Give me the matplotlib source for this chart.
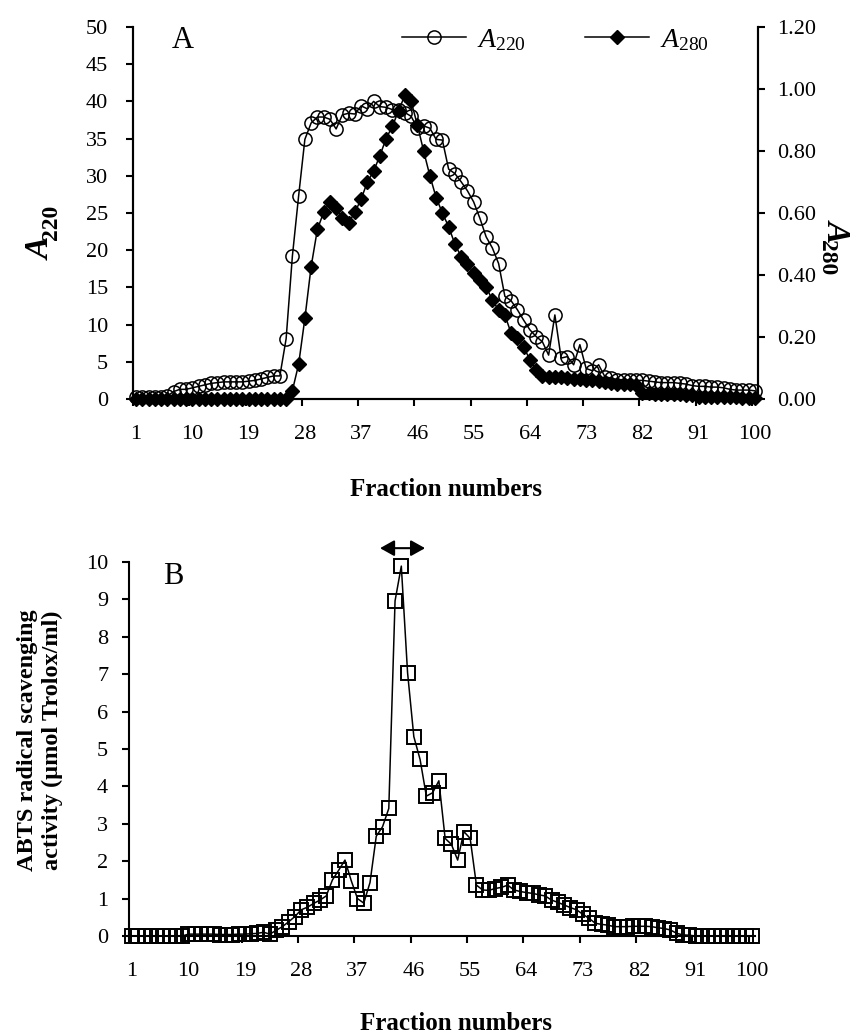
import matplotlib
matplotlib.use("Agg")
import matplotlib.pyplot as plt
import numpy as np

plt.rcParams["font.family"] = "Liberation Serif"
plt.rcParams["mathtext.fontset"] = "custom"
plt.rcParams["mathtext.rm"] = "Liberation Serif"
plt.rcParams["mathtext.it"] = "Liberation Serif:italic"
plt.rcParams["mathtext.bf"] = "Liberation Serif:bold"

# --- data: fractions 1..100 ---
fractions = np.arange(1, 101)

a220 = [0.3, 0.3, 0.3, 0.3, 0.3, 0.4, 1.0, 1.3, 1.3, 1.5,
        1.7, 1.9, 2.1, 2.2, 2.3, 2.3, 2.3, 2.3, 2.4, 2.5,
        2.7, 2.9, 3.1, 3.1, 8.1, 19.2, 27.3, 34.9, 37.1, 37.9,
        37.9, 37.6, 36.3, 38.2, 38.4, 38.3, 39.4, 39.0, 40.0, 39.3,
        39.2, 38.9, 38.8, 38.5, 38.0, 36.4, 36.7, 36.4, 34.9, 34.8,
        30.9, 30.3, 29.2, 28.0, 26.5, 24.3, 21.8, 20.3, 18.2, 13.8,
        13.2, 12.0, 10.6, 9.3, 8.4, 7.7, 5.9, 11.3, 5.5, 5.7,
        4.6, 7.3, 4.1, 3.8, 4.6, 3.0, 2.8, 2.6, 2.6, 2.5,
        2.5, 2.5, 2.4, 2.3, 2.2, 2.2, 2.2, 2.1, 2.0, 1.8,
        1.7, 1.7, 1.6, 1.6, 1.5, 1.3, 1.2, 1.2, 1.2, 1.1]

a280 = [0.0] * 25 + [
        0.027, 0.112, 0.26, 0.427, 0.547,
        0.602, 0.636, 0.615, 0.585, 0.569, 0.602, 0.645, 0.70, 0.735, 0.785,
        0.84, 0.88, 0.93, 0.98, 0.96, 0.884, 0.80, 0.72, 0.65, 0.60,
        0.556, 0.50, 0.459, 0.437, 0.405, 0.384, 0.362, 0.319, 0.287, 0.271,
        0.212, 0.196, 0.169, 0.126, 0.094, 0.075, 0.072, 0.071, 0.070, 0.068,
        0.066, 0.064, 0.062, 0.060, 0.058, 0.055, 0.052, 0.050, 0.048, 0.047,
        0.045, 0.018, 0.018, 0.017, 0.017, 0.016, 0.016, 0.015, 0.014, 0.012,
        0.008, 0.007, 0.007, 0.006, 0.006, 0.005, 0.005, 0.004, 0.004, 0.003]

abts = [0.0, 0.0, 0.0, 0.0, 0.0, 0.0, 0.0, 0.0, 0.0, 0.05,
        0.05, 0.05, 0.05, 0.05, 0.04, 0.04, 0.04, 0.05, 0.05, 0.06,
        0.07, 0.10, 0.05, 0.15, 0.25, 0.38, 0.52, 0.70, 0.77, 0.87,
        0.96, 1.07, 1.50, 1.76, 2.03, 1.48, 1.00, 0.88, 1.43, 2.67,
        2.92, 3.41, 8.96, 9.89, 7.04, 5.33, 4.72, 3.74, 3.83, 4.15,
        2.61, 2.45, 2.03, 2.79, 2.61, 1.36, 1.23, 1.22, 1.27, 1.30,
        1.36, 1.23, 1.19, 1.16, 1.14, 1.10, 1.07, 0.96, 0.90, 0.83,
        0.76, 0.70, 0.58, 0.47, 0.34, 0.31, 0.29, 0.25, 0.25, 0.25,
        0.26, 0.26, 0.26, 0.25, 0.22, 0.20, 0.16, 0.07, 0.03, 0.02,
        0.0, 0.0, 0.0, 0.0, 0.0, 0.0, 0.0, 0.0, 0.0, 0.0]

tick_fracs = list(range(1, 101, 9))

W, H = 864, 1034
fig = plt.figure(figsize=(W / 100, H / 100), dpi=100)


def axes_px(left, top, right, bottom):
    return fig.add_axes([left / W, 1 - bottom / H, (right - left) / W, (bottom - top) / H])


def text_px(x, y, s, **kw):
    return fig.text(x / W, 1 - y / H, s, **kw)


def category_axis(ax):
    # fractions sit in the middle of each category slot, ticks on the slot edges
    ax.set_xlim(0, 100)
    ax.set_xticks([f - 1 for f in tick_fracs])
    ax.set_xticklabels([])
    ax.set_xticks([f - 0.5 for f in tick_fracs], minor=True)
    ax.set_xticklabels([str(f) for f in tick_fracs], minor=True)
    ax.tick_params(axis="x", which="major", direction="out", length=5, width=1.5)
    ax.tick_params(axis="x", which="minor", length=0, pad=19, labelsize=16)
    for s in ax.spines.values():
        s.set_linewidth(1.5)
    ax.spines["top"].set_visible(False)


xpos = fractions - 0.5

# ---------------- panel A ----------------
axA = axes_px(133, 27, 758, 399)
category_axis(axA)
l220, = axA.plot(xpos, a220, color="black", lw=1.1, marker="o", ms=9.5,
                 mfc="none", mec="black", mew=1.1, clip_on=False)
axA.set_ylim(0, 50)
axA.set_yticks(np.arange(0, 51, 5))
axA.tick_params(axis="y", direction="out", length=5, width=1.5, pad=13, labelsize=16)

axR = axA.twinx()
axR.set_xlim(0, 100)
l280, = axR.plot(xpos, a280, color="black", lw=1.1, marker="D", ms=7.5,
                 mfc="black", mec="black", clip_on=False)
axR.set_ylim(0, 1.2)
axR.set_yticks(np.arange(0, 1.21, 0.2))
axR.set_yticklabels([f"{v:.2f}" for v in np.arange(0, 1.21, 0.2)])
axR.tick_params(axis="y", direction="out", length=5, width=1.5, pad=9, labelsize=16)
axR.spines["top"].set_visible(False)
for s in axR.spines.values():
    s.set_linewidth(1.5)

axR.legend([l220, l280], [r"$A_{\mathrm{220}}$", r"$A_{\mathrm{280}}$"],
           ncol=2, frameon=False, fontsize=20, loc="center left",
           bbox_to_anchor=(0.43, 0.965), borderaxespad=0, borderpad=0,
           handlelength=2.3, handletextpad=0.4, columnspacing=2.15)

text_px(172, 40, "A", fontsize=22, va="center", ha="left")
text_px(446, 490, "Fraction numbers", fontsize=18, fontweight="bold",
        ha="center", va="center")

# axis titles: bold italic A with a bold subscript wavelength
bi = dict(fontsize=24, fontweight="bold", fontstyle="italic", ha="center", va="center")
sub = dict(fontsize=17, fontweight="bold", ha="center", va="center")
text_px(41, 249, "A", rotation=90, **bi)
text_px(51, 222, "220", rotation=90, **sub)
text_px(837, 230, "A", rotation=270, **bi)
text_px(827, 258, "280", rotation=270, **sub)

# ---------------- panel B ----------------
axB = axes_px(129, 562, 755, 936)
category_axis(axB)
axB.spines["right"].set_visible(False)
axB.plot(xpos, abts, color="black", lw=1.1, marker="s", ms=9.5,
         mfc="none", mec="black", mew=1.4, clip_on=False)
axB.set_ylim(0, 10)
axB.set_yticks(np.arange(0, 11, 1))
axB.tick_params(axis="y", direction="out", length=5, width=1.5, pad=10, labelsize=16)

# pooled fractions marker above the main peak
axB.annotate("", xy=(40.1, 10.37), xytext=(47.3, 10.37), annotation_clip=False,
             arrowprops=dict(arrowstyle="<|-|>,head_length=0.43,head_width=0.24",
                             mutation_scale=20, lw=1.5, color="black",
                             shrinkA=0, shrinkB=0))

text_px(163, 577, "B", fontsize=22, va="center", ha="left")
text_px(456, 1023, "Fraction numbers", fontsize=18, fontweight="bold",
        ha="center", va="center")
text_px(40, 740, "ABTS radical scavenging\nactivity (\u00b5mol Trolox/ml)",
        fontsize=17.5, fontweight="bold", rotation=90, ha="center",
        va="center", multialignment="center", linespacing=1.2)

fig.savefig("out.png", dpi=100)
